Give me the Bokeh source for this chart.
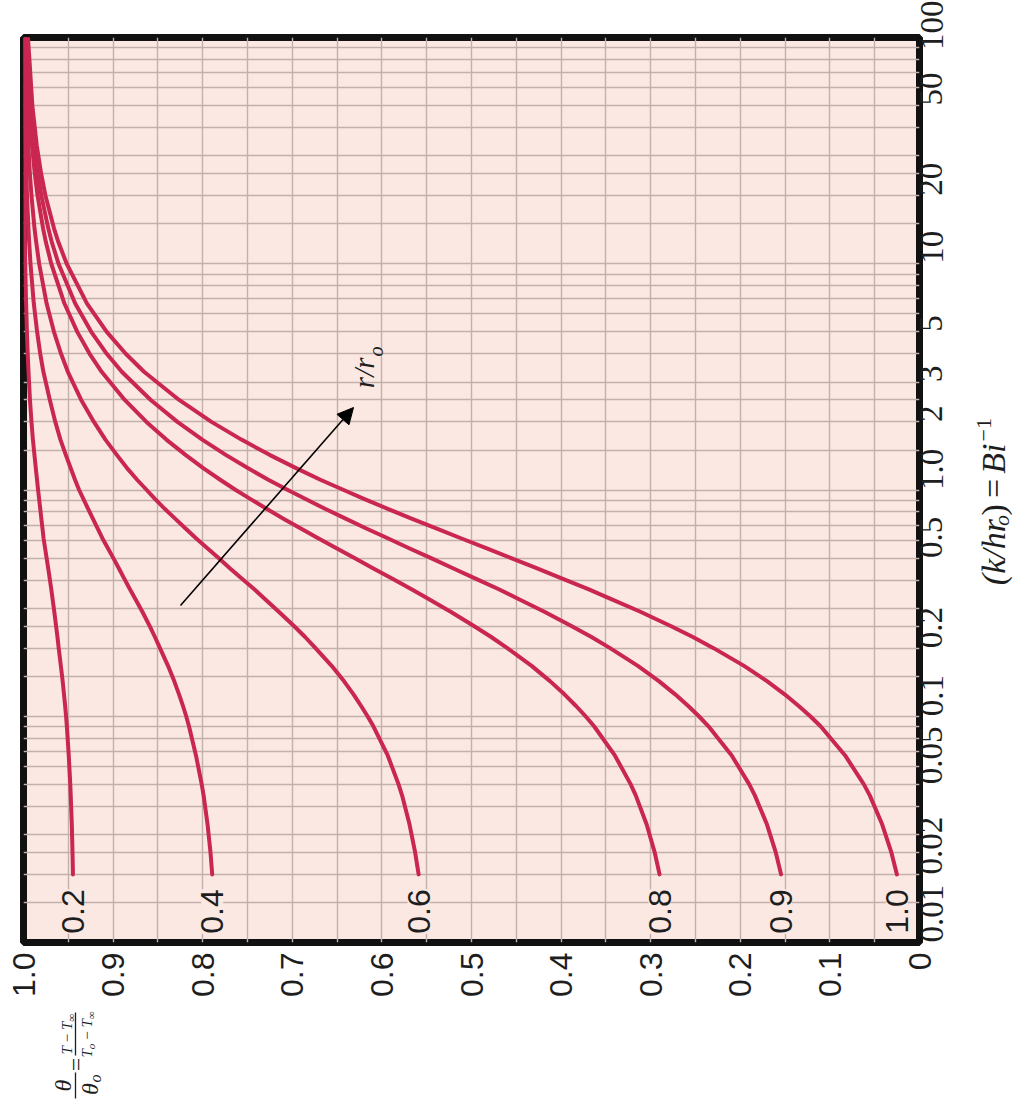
import math
from bokeh.plotting import figure
from bokeh.layouts import row, column
from bokeh.models import FixedTicker, Range1d, Label, Arrow, NormalHead
from bokeh.core.properties import value
from bokeh.embed import file_html
from bokeh.resources import INLINE

# ---- data ----
bi_inv = [0.02, 0.025, 0.0333, 0.0447, 0.05, 0.0671, 0.0903, 0.1, 0.111, 0.125, 0.143, 0.167,
          0.2, 0.224, 0.25, 0.289, 0.333, 0.364, 0.405, 0.450, 0.5, 0.553, 0.612, 0.676,
          0.747, 0.826, 0.914, 1.0, 1.11, 1.25, 1.43, 1.67, 2.0, 2.5, 3.33, 4.0, 5.0, 6.67,
          10.0, 12.5, 14.3, 20.0, 25.0, 33.3, 50.0, 100.0]

theta_r02 = [0.9448, 0.9453, 0.9461, 0.9473, 0.9478, 0.9495, 0.9516, 0.9525, 0.9535, 0.9548,
             0.9563, 0.9583, 0.9607, 0.9621, 0.9636, 0.9656, 0.9677, 0.9690, 0.9707, 0.9724,
             0.9742, 0.9759, 0.9776, 0.9788, 0.9801, 0.9813, 0.9826, 0.9837, 0.9849, 0.9863,
             0.9878, 0.9895, 0.9911, 0.9928, 0.9944, 0.9953, 0.9962, 0.9971, 0.9981, 0.9984,
             0.9986, 0.9990, 0.9992, 0.9994, 0.9996, 0.9998]
theta_r04 = [0.7894, 0.7913, 0.7946, 0.7990, 0.8011, 0.8075, 0.8153, 0.8184, 0.8220, 0.8264,
             0.8318, 0.8387, 0.8477, 0.8533, 0.8591, 0.8672, 0.8758, 0.8812, 0.8874, 0.8935,
             0.8997, 0.9058, 0.9120, 0.9173, 0.9226, 0.9279, 0.9332, 0.9379, 0.9425, 0.9474,
             0.9528, 0.9588, 0.9645, 0.9706, 0.9778, 0.9813, 0.9848, 0.9885, 0.9922, 0.9937,
             0.9945, 0.9961, 0.9968, 0.9976, 0.9984, 0.9992]
theta_r06 = [0.5590, 0.5629, 0.5692, 0.5775, 0.5814, 0.5935, 0.6095, 0.6160, 0.6232, 0.6317,
             0.6424, 0.6561, 0.6741, 0.6857, 0.6978, 0.7148, 0.7318, 0.7424, 0.7561, 0.7694,
             0.7823, 0.7948, 0.8075, 0.8191, 0.8308, 0.8424, 0.8533, 0.8625, 0.8732, 0.8845,
             0.8959, 0.9086, 0.9214, 0.9356, 0.9505, 0.9581, 0.9660, 0.9742, 0.9825, 0.9859,
             0.9877, 0.9911, 0.9929, 0.9946, 0.9964, 0.9982]
theta_r08 = [0.2901, 0.2955, 0.3046, 0.3167, 0.3223, 0.3400, 0.3632, 0.3727, 0.3833, 0.3963,
             0.4124, 0.4329, 0.4600, 0.4780, 0.4969, 0.5228, 0.5498, 0.5669, 0.5882, 0.6095,
             0.6306, 0.6507, 0.6711, 0.6905, 0.7099, 0.7287, 0.7470, 0.7631, 0.7805, 0.7994,
             0.8192, 0.8406, 0.8628, 0.8870, 0.9128, 0.9262, 0.9400, 0.9543, 0.9690, 0.9751,
             0.9781, 0.9843, 0.9874, 0.9905, 0.9936, 0.9968]
theta_r09 = [0.1545, 0.1604, 0.1703, 0.1838, 0.1900, 0.2096, 0.2355, 0.2462, 0.2581, 0.2727,
             0.2909, 0.3143, 0.3453, 0.3661, 0.3880, 0.4181, 0.4498, 0.4695, 0.4949, 0.5201,
             0.5451, 0.5696, 0.5935, 0.6174, 0.6405, 0.6635, 0.6857, 0.7050, 0.7268, 0.7497,
             0.7743, 0.8005, 0.8282, 0.8580, 0.8903, 0.9071, 0.9244, 0.9423, 0.9609, 0.9685,
             0.9723, 0.9801, 0.9840, 0.9880, 0.9919, 0.9960]
theta_r10 = [0.0252, 0.0314, 0.0417, 0.0555, 0.0621, 0.0830, 0.1104, 0.1219, 0.1348, 0.1505,
             0.1702, 0.1958, 0.2298, 0.2529, 0.2771, 0.3109, 0.3466, 0.3690, 0.3980, 0.4267,
             0.4557, 0.4836, 0.5118, 0.5394, 0.5669, 0.5935, 0.6201, 0.6426, 0.6687, 0.6958,
             0.7254, 0.7568, 0.7902, 0.8263, 0.8655, 0.8859, 0.9071, 0.9291, 0.9518, 0.9612,
             0.9659, 0.9755, 0.9803, 0.9852, 0.9901, 0.9950]

curve_labels = ["0.2", "0.4", "0.6", "0.8", "0.9", "1.0"]
curves = [theta_r02, theta_r04, theta_r06, theta_r08, theta_r09, theta_r10]

theta_ticks = [1.0, 0.9, 0.8, 0.7, 0.6, 0.5, 0.4, 0.3, 0.2, 0.1, 0.0]
theta_tick_labels = ["1.0", "0.9", "0.8", "0.7", "0.6", "0.5", "0.4", "0.3", "0.2", "0.1", "0"]
bi_ticks = [0.01, 0.02, 0.05, 0.1, 0.2, 0.5, 1.0, 2.0, 3.0, 5.0, 10.0, 20.0, 50.0, 100.0]
bi_tick_labels = ["0.01", "0.02", "0.05", "0.1", "0.2", "0.5", "1.0", "2", "3", "5",
                  "10", "20", "50", "100"]

# ---- styling ----
BG = "#fbe8e2"
GRID = "#c2b0ac"
CURVE = "#c92650"
TXT = "#1e1e1e"
SANS = "'Liberation Sans', Arial, sans-serif"
SERIF = "'Liberation Serif', 'Times New Roman', serif"

W, H = 971, 1008
ML, MT, FW, FH = 23, 37, 896, 905
MR, MB = W - ML - FW, H - MT - FH

p = figure(width=W, height=H, x_range=Range1d(1.0, 0.0), y_range=Range1d(0.01, 100),
           y_axis_type="log", y_axis_location="right", x_axis_location="below",
           output_backend="svg", toolbar_location=None,
           min_border_left=ML, min_border_right=MR, min_border_top=MT, min_border_bottom=MB)

p.background_fill_color = BG
p.border_fill_color = "white"
p.outline_line_color = "#111111"
p.outline_line_width = 7

# grids
p.xgrid.ticker = FixedTicker(ticks=[round(i * 0.05, 2) for i in range(21)])
mults = [1, 1.5, 2, 2.5, 3, 4, 5, 6, 7, 8, 9]
p.ygrid.ticker = FixedTicker(ticks=[m * 10.0 ** e for e in range(-2, 2) for m in mults] + [100.0])
for g in (p.xgrid, p.ygrid):
    g.grid_line_color = GRID
    g.grid_line_width = 1.4
    g.grid_line_alpha = 1.0

# axes
xa = p.xaxis[0]
xa.ticker = FixedTicker(ticks=theta_ticks)
xa.major_label_overrides = dict(zip(theta_ticks, theta_tick_labels))
ya = p.yaxis[0]
ya.ticker = FixedTicker(ticks=bi_ticks)
ya.major_label_overrides = dict(zip(bi_ticks, bi_tick_labels))
for ax in (xa, ya):
    ax.axis_line_color = None
    ax.major_tick_line_color = None
    ax.minor_tick_line_color = None
    ax.major_tick_in = 0
    ax.major_tick_out = 0
    ax.major_label_orientation = math.pi / 2
    ax.major_label_text_color = TXT
xa.major_label_text_font = SANS
xa.major_label_text_font_size = "32px"
xa.major_label_standoff = 10
ya.major_label_text_font = SERIF
ya.major_label_text_font_size = "33px"
ya.major_label_standoff = 12

# curves
for th in curves:
    p.line(th, bi_inv, line_width=4, line_color=CURVE, line_cap="round", line_join="round")

# curve labels at the foot of each curve
p.text(x=[c[0] for c in curves], y=[0.0137] * len(curves), text=curve_labels,
       angle=math.pi / 2, text_align="center", text_baseline="middle",
       text_font=value(SANS), text_font_size="32px", text_color=TXT,
       background_fill_color=BG)


# helpers: canvas pixel -> data of main plot
def tx(xpx):
    return (ML + FW - xpx) / FW


def ty(ypx):
    return 10 ** (2 - (ypx - MT) * 4.0 / FH)


# arrow r/ro
p.add_layout(Arrow(end=NormalHead(size=16, fill_color="black", line_color="black"),
                   x_start=tx(180), y_start=ty(605), x_end=tx(353), y_end=ty(407),
                   line_color="black", line_width=1.6))
p.add_layout(Label(x=tx(363), y=ty(357), text="r/r", angle=math.pi / 2,
                   text_align="right", text_baseline="middle",
                   text_font=SERIF, text_font_style="italic", text_font_size="29px",
                   text_color=TXT))
p.add_layout(Label(x=tx(375), y=ty(356), text="o", angle=math.pi / 2,
                   text_align="left", text_baseline="middle",
                   text_font=SERIF, text_font_style="italic", text_font_size="20px",
                   text_color=TXT))


def blank_fig(w, h):
    f = figure(width=w, height=h, x_range=Range1d(0, w), y_range=Range1d(0, h),
               x_axis_location=None, y_axis_location=None, output_backend="svg",
               toolbar_location=None, min_border=0)
    f.outline_line_color = None
    f.xgrid.visible = False
    f.ygrid.visible = False
    f.background_fill_color = "white"
    f.border_fill_color = "white"
    return f


def rlabel(f, text, x, y, size, style="italic", align="left"):
    # x is the centre line of the (rotated) text, y where it starts (reading upward)
    f.add_layout(Label(x=x, y=y, text=text, angle=math.pi / 2,
                       text_align=align, text_baseline="middle",
                       text_font=SERIF, text_font_style=style,
                       text_font_size=f"{size}px", text_color=TXT))


# right axis title: (k/hr_o) = Bi^-1, reading upward
RW = 1016 - W
pr = blank_fig(RW, H)
cx = 993 - W
y0 = H - 610
rlabel(pr, "(k/hr", cx, y0, 34)
rlabel(pr, "o", cx + 8, y0 + 66, 22)
rlabel(pr, ")", cx, y0 + 77.5, 34, style="normal")
rlabel(pr, "=", cx, y0 + 97, 34, style="normal")
rlabel(pr, "Bi", cx, y0 + 124, 34)
rlabel(pr, "\u22121", cx - 10, y0 + 160, 22, style="normal")

# bottom-left title: theta/theta_o = (T - T_inf)/(T_o - T_inf), reading upward
BH = 1101 - H
pb = blank_fig(200, BH)
pb.segment(x0=[75, 75], y0=[3, 46], x1=[75, 75], y1=[29, 89], line_color=TXT, line_width=1.3)
rlabel(pb, "\u03b8", 62, 16, 24, align="center")
rlabel(pb, "\u03b8", 89, 6.5, 24)
rlabel(pb, "o", 94.5, 19, 16)
rlabel(pb, "=", 75, 37, 24, style="normal", align="center")
rlabel(pb, "T\u2009\u2212\u2009T", 66, 47, 15)
rlabel(pb, "\u221e", 70, 79.8, 11, style="normal")
rlabel(pb, "T", 86, 44, 15)
rlabel(pb, "o", 90, 52.3, 11)
rlabel(pb, "\u2009\u2212\u2009T", 86, 57.8, 15)
rlabel(pb, "\u221e", 90, 82.3, 11, style="normal")

layout = column(row(p, pr), pb)
open("out.html", "w").write(file_html(layout, INLINE))
